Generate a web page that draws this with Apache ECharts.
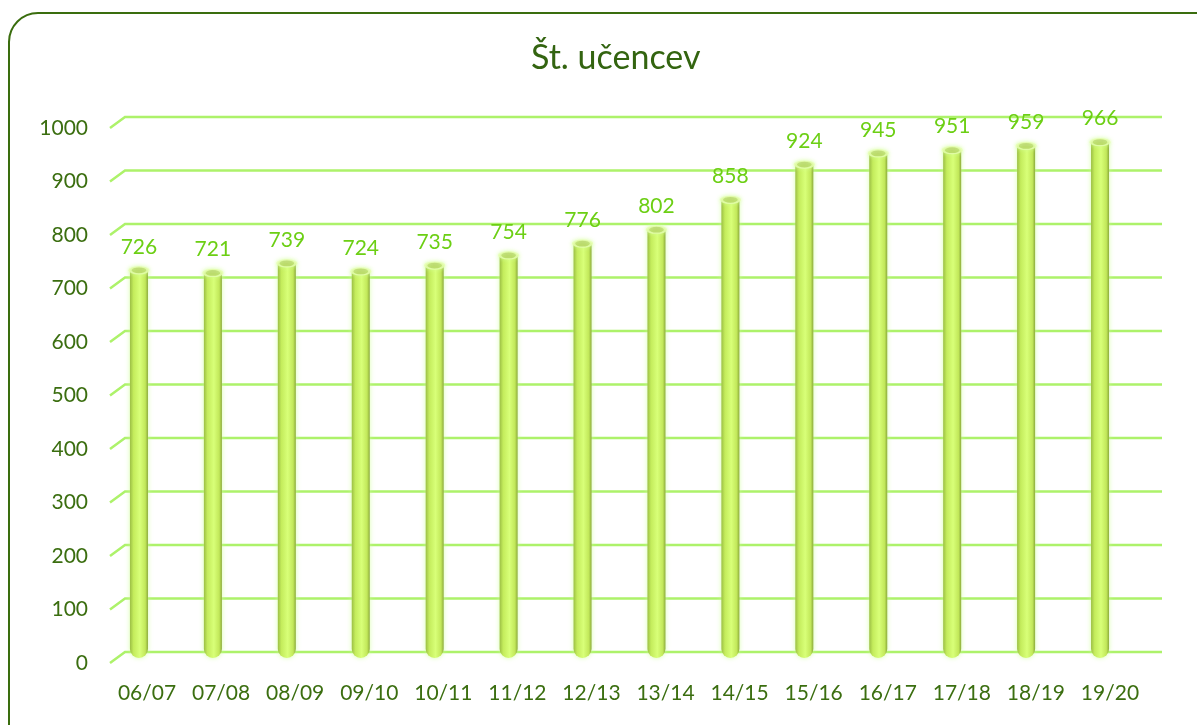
<!DOCTYPE html>
<html>
<head>
<meta charset="utf-8">
<script src="https://cdn.jsdelivr.net/npm/echarts@6/dist/echarts.min.js"></script>
<style>
  body { margin: 0; background: #fff; }
  #frame {
    position: absolute; left: 8px; top: 12px;
    width: 1300px; height: 800px;
    border: 2px solid #3a6d0e; border-radius: 30px;
  }
  #main { position: absolute; left: 0; top: 0; width: 1197px; height: 725px; }
</style>
</head>
<body>
<div id="frame"></div>
<div id="main"></div>
<script>
// šolska leta
var years = ['06/07', '07/08', '08/09', '09/10', '10/11', '11/12', '12/13',
  '13/14', '14/15', '15/16', '16/17', '17/18', '18/19', '19/20'];
// število učencev
var pupils = [726, 721, 739, 724, 735, 754, 776, 802, 858, 924, 945, 951, 959, 966];
// vrednosti mrežnih črt
var gridTicks = [0, 100, 200, 300, 400, 500, 600, 700, 800, 900, 1000];

var DEPTH_X = 15, DEPTH_Y = -11; // zamik zadnje stene (3D)
var labelColor = '#3b6e10';
var lineColor = '#adf26a';

var chart = echarts.init(document.getElementById('main'));

chart.setOption({
  title: {
    text: 'Št. učencev',
    left: 526,
    top: 36,
    textStyle: { fontFamily: 'Lato', fontSize: 34, fontWeight: 'normal', color: '#336410' }
  },
  grid: [
    // sprednja ravnina: oznake osi
    { left: 110, right: 50, top: 128, bottom: 62 },
    // ravnina stolpcev
    { left: 102, right: 60, top: 124, bottom: 67 }
  ],
  xAxis: [
    {
      type: 'category', gridIndex: 0, data: years,
      axisLine: { show: false }, axisTick: { show: false },
      axisLabel: { interval: 0, color: labelColor, fontFamily: 'Lato', fontSize: 21, margin: 20 }
    },
    {
      type: 'category', gridIndex: 1, data: years, show: false
    }
  ],
  yAxis: [
    {
      type: 'value', gridIndex: 0, min: 0, max: 1000, interval: 100,
      axisLine: { show: false }, axisTick: { show: false }, splitLine: { show: false },
      axisLabel: {
        color: labelColor, fontFamily: 'Lato', fontSize: 21, margin: 22,
        formatter: function (v) { return String(v); }
      }
    },
    {
      type: 'value', gridIndex: 1, min: 0, max: 1000, interval: 100, show: false
    }
  ],
  series: [
    {
      // mrežne črte s poševnim delom na levi
      type: 'custom',
      xAxisIndex: 0, yAxisIndex: 0,
      silent: true,
      z: 1,
      data: gridTicks.map(function (v) { return [0, v]; }),
      renderItem: function (params, api) {
        var p = api.coord([0, api.value(1)]);
        var band = api.size([1, 0])[0];
        var x0 = p[0] - band / 2;
        var x1 = x0 + band * years.length;
        return {
          type: 'polyline',
          shape: { points: [[x0, p[1]], [x0 + DEPTH_X, p[1] + DEPTH_Y], [x1 + DEPTH_X, p[1] + DEPTH_Y]] },
          style: { stroke: lineColor, lineWidth: 2.5, fill: null }
        };
      }
    },
    {
      type: 'bar',
      xAxisIndex: 1, yAxisIndex: 1,
      data: pupils,
      barWidth: 18,
      z: 3,
      itemStyle: {
        color: new echarts.graphic.LinearGradient(0, 0, 1, 0, [
          { offset: 0, color: '#9cbf45' },
          { offset: 0.2, color: '#c4ec5c' },
          { offset: 0.55, color: '#d8ff78' },
          { offset: 0.85, color: '#c2e85a' },
          { offset: 1, color: '#8cab3c' }
        ]),
        borderRadius: [0, 0, 9, 9],
        shadowColor: 'rgba(205,255,150,0.8)',
        shadowBlur: 5
      },
      label: {
        show: true,
        position: 'top',
        distance: 13,
        color: '#6ccf14',
        fontFamily: 'Lato',
        fontSize: 21
      }
    },
    {
      // vrh valja
      type: 'scatter',
      xAxisIndex: 1, yAxisIndex: 1,
      data: pupils,
      symbol: 'circle',
      symbolSize: [18, 7],
      z: 4,
      silent: true,
      itemStyle: {
        color: '#b2cd5e',
        borderColor: '#e6ffb0',
        borderWidth: 2,
        shadowColor: 'rgba(210,255,150,0.9)',
        shadowBlur: 4
      }
    }
  ]
});
</script>
</body>
</html>
